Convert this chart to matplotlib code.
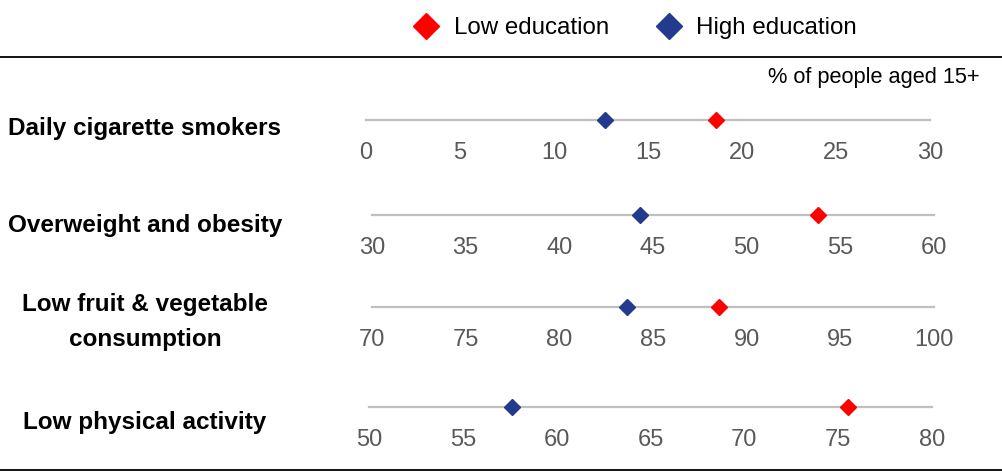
import matplotlib.pyplot as plt
from matplotlib.lines import Line2D

plt.rcParams["font.family"] = ["Liberation Sans", "DejaVu Sans"]

categories = [
    "Daily cigarette smokers",
    "Overweight and obesity",
    "Low fruit & vegetable\nconsumption",
    "Low physical activity",
]
low_edu = [18.6, 53.8, 88.5, 75.5]
high_edu = [12.7, 44.3, 83.6, 57.6]
axis_min = [0, 30, 70, 50]
axis_max = [30, 60, 100, 80]

RED = "#ff0000"
BLUE = "#233a8f"
GREY_LINE = "#bfbfbf"
TICK_GREY = "#595959"

W, H = 1003, 474
fig = plt.figure(figsize=(W / 100, H / 100), dpi=100)
fig.patch.set_facecolor("white")

# row geometry in pixels: (line y, left x, right x, label y)
rows = [
    (120, 366, 930, 128),
    (215, 372, 934, 226),
    (307, 372, 934, 322),
    (407, 369, 932, 423),
]

for i, (ly, x0, x1, ty) in enumerate(rows):
    ax = fig.add_axes([x0 / W, 1 - ly / H, (x1 - x0) / W, 0.02])
    lo, hi = axis_min[i], axis_max[i]
    ax.set_xlim(lo, hi)
    ax.set_ylim(0, 1)
    ax.axhline(0, color=GREY_LINE, lw=1.6, clip_on=False, zorder=1)
    ax.plot([high_edu[i]], [0], "D", color=BLUE, ms=8.5, clip_on=False, zorder=3)
    ax.plot([low_edu[i]], [0], "D", color=RED, ms=8.5, clip_on=False, zorder=3)
    ax.set_xticks(range(lo, hi + 1, 5))
    ax.set_yticks([])
    ax.tick_params(axis="x", length=0, pad=16, labelsize=17, labelcolor=TICK_GREY)
    for s in ax.spines.values():
        s.set_visible(False)
    ax.patch.set_alpha(0)

    fig.text(145 / W, 1 - ty / H, categories[i], ha="center", va="center",
             fontsize=17.5, fontweight="bold", color="black", linespacing=1.65)

# rules above and below the panel
fig.add_artist(Line2D([0, 1], [1 - 57 / H] * 2, color="black", lw=1.3))
fig.add_artist(Line2D([0, 1], [1 - 470 / H] * 2, color="black", lw=1.3))

fig.text(980 / W, 1 - 78 / H, "% of people aged 15+", ha="right", va="center",
         fontsize=15.7, color="black")

handles = [
    Line2D([], [], marker="D", color=RED, ls="none", ms=13),
    Line2D([], [], marker="D", color=BLUE, ls="none", ms=13),
]
fig.legend(handles, ["Low education", "High education"], ncol=2, frameon=False,
           loc="center", bbox_to_anchor=(634 / W, 1 - 28 / H), fontsize=17.4,
           handletextpad=0.5, columnspacing=1.8, handlelength=1.3)

fig.savefig("out.png", dpi=100, facecolor="white")
